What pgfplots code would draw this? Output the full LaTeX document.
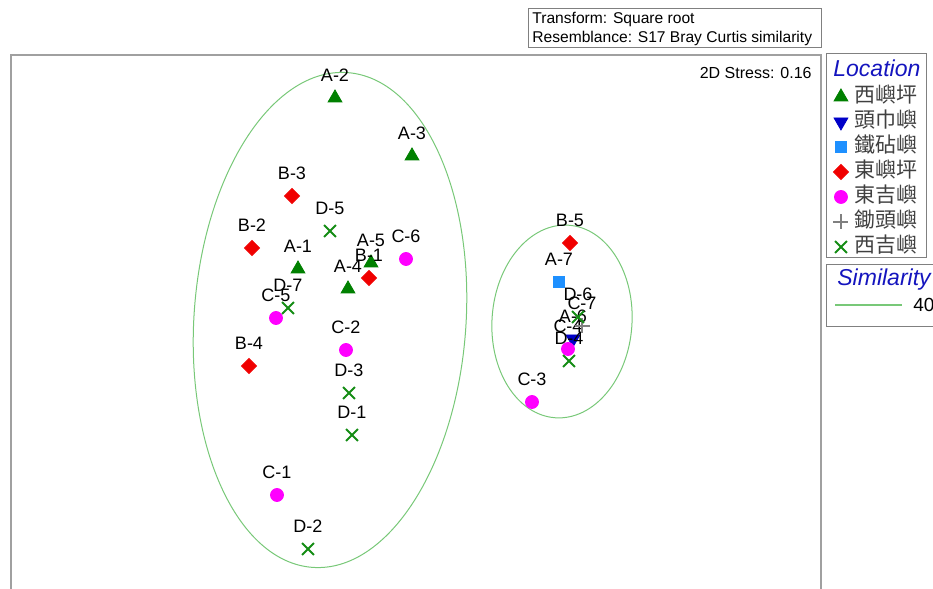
\documentclass[border=0pt]{standalone}
\usepackage{pgfplots}
\pgfplotsset{compat=1.18}
\usepackage{pgfplotstable}
\usepackage{fontspec}
\setmainfont{Liberation Sans}
\newfontfamily\cjk{Noto Sans CJK TC}

\definecolor{triG}{RGB}{0,128,0}
\definecolor{crossG}{RGB}{20,140,20}
\definecolor{dBlue}{RGB}{0,0,200}
\definecolor{sqBlue}{RGB}{30,144,255}
\definecolor{dRed}{RGB}{240,0,0}
\definecolor{cMag}{RGB}{255,0,255}
\definecolor{pGray}{RGB}{128,128,128}
\definecolor{ellG}{RGB}{120,200,120}
\definecolor{frameGray}{RGB}{160,160,160}
\definecolor{boxGray}{RGB}{128,128,128}
\definecolor{titleBlue}{RGB}{20,20,190}
\definecolor{legText}{RGB}{64,64,64}

% positions of samples on the 2D nMDS plane (arbitrary units)
\pgfplotstableread{
x y label
298 320 A-1
335 491 A-2
412 433 A-3
348 300 A-4
371 326 A-5
}\tabA
\pgfplotstableread{
x y label
573 250 A-6
}\tabAsix
\pgfplotstableread{
x y label
559 307 A-7
}\tabAseven
\pgfplotstableread{
x y label
369 311 B-1
252 341 B-2
292 393 B-3
249 223 B-4
570 346 B-5
}\tabB
\pgfplotstableread{
x y label
277 94 C-1
346 239 C-2
532 187 C-3
568 240 C-4
276 271 C-5
406 330 C-6
}\tabC
\pgfplotstableread{
x y label
582 263 C-7
}\tabCseven
\pgfplotstableread{
x y label
352 154 D-1
308 40 D-2
349 196 D-3
569 228 D-4
330 358 D-5
578 272 D-6
288 281 D-7
}\tabD

\begin{document}
\begin{tikzpicture}[x=0.5pt,y=0.5pt]
\useasboundingbox (0,0) rectangle (933,589);

% similarity contours
\draw[ellG, line width=0.5pt, rotate around={-4:(330,269)}] (330,269) ellipse [x radius=68pt, y radius=124pt];
\draw[ellG, line width=0.5pt, rotate around={-4:(562,267.5)}] (562,267.5) ellipse [x radius=35pt, y radius=48.25pt];

\begin{axis}[
  at={(5.5pt,-5.5pt)}, anchor=south west,
  scale only axis, width=405pt, height=272.5pt,
  xmin=11, xmax=821, ymin=-11, ymax=534,
  xtick=\empty, ytick=\empty,
  axis line style={draw=frameGray, line width=1pt},
  clip=false,
  nodes near coords, point meta=explicit symbolic,
  every node near coord/.append style={anchor=center, yshift=11.25pt, inner sep=0pt, text=black, font=\fontsize{9}{10}\selectfont},
  legend image code/.code={\draw[#1] plot coordinates {(0pt,0pt)};},
  legend cell align=left,
  legend style={at={(axis description cs:1.0154,0.9459)}, anchor=north west,
    draw=none, fill=none, inner sep=0pt, outer sep=0pt, row sep=0pt, column sep=3pt,
    font=\fontsize{10.5}{12}\selectfont\cjk, text=legText,
    nodes={inner sep=0pt, text height=9pt, text depth=3.5pt}},
]
\addplot[only marks, mark=triangle*, mark size=4pt, color=triG] table[x=x,y=y,meta=label]{\tabA};
\addlegendentry{西嶼坪}
\addplot[only marks, mark=triangle*, mark size=4pt, mark options={rotate=180}, color=dBlue] table[x=x,y=y,meta=label]{\tabAsix};
\addlegendentry{頭巾嶼}
\addplot[only marks, mark=square*, mark size=2.75pt, color=sqBlue] table[x=x,y=y,meta=label]{\tabAseven};
\addlegendentry{鐵砧嶼}
\addplot[only marks, mark=square*, mark size=2.65pt, mark options={rotate=45}, color=dRed] table[x=x,y=y,meta=label]{\tabB};
\addlegendentry{東嶼坪}
\addplot[only marks, mark=*, mark size=3.25pt, color=cMag] table[x=x,y=y,meta=label]{\tabC};
\addlegendentry{東吉嶼}
\addplot[only marks, mark=+, mark size=3.75pt, color=pGray, mark options={line width=0.6pt}] table[x=x,y=y,meta=label]{\tabCseven};
\addlegendentry{鋤頭嶼}
\addplot[only marks, mark=x, mark size=4.2pt, color=crossG, mark options={line width=1pt}] table[x=x,y=y,meta=label]{\tabD};
\addlegendentry{西吉嶼}
\end{axis}

% header box
\draw[boxGray, line width=0.5pt] (528,541) rectangle (821,580);
\node[anchor=west, inner sep=0pt, font=\fontsize{7.8}{9}\selectfont] at (532,570) {Transform: Square root};
\node[anchor=west, inner sep=0pt, font=\fontsize{7.8}{9}\selectfont] at (532,551) {Resemblance: S17 Bray Curtis similarity};
\node[anchor=east, inner sep=0pt, font=\fontsize{8}{9}\selectfont] at (812,516) {2D Stress: 0.16};

% legend boxes
\draw[boxGray, line width=0.5pt] (826,331) rectangle (926,535);
\node[anchor=west, inner sep=0pt, text=titleBlue, font=\fontsize{11.5}{12}\selectfont\itshape] at (833,521) {Location};
\draw[boxGray, line width=0.5pt] (826,262) rectangle (950,324);
\node[anchor=west, inner sep=0pt, text=titleBlue, font=\fontsize{11.5}{12}\selectfont\itshape] at (837,309) {Similarity};
\draw[ellG, line width=0.6pt] (835,284) -- (902,284);
\node[anchor=west, inner sep=0pt, text=black, font=\fontsize{9.5}{10}\selectfont] at (913,284) {40};
\end{tikzpicture}
\end{document}
